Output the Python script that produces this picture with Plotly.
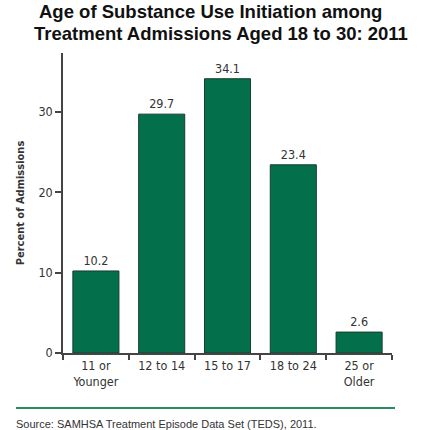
import plotly.graph_objects as go

# Age at first substance use, treatment admissions aged 18-30 (2011)
categories = ["11 or<br>Younger", "12 to 14", "15 to 17", "18 to 24", "25 or<br>Older"]
percents = [10.2, 29.7, 34.1, 23.4, 2.6]
y_ticks = [0, 10, 20, 30]

narrow = "DejaVu Sans Condensed, Liberation Sans Narrow, Arial Narrow, sans-serif"
sans = "Liberation Sans, Arial, sans-serif"
green = "#04704b"

fig = go.Figure(
    go.Bar(
        x=categories,
        y=percents,
        width=0.7,
        marker=dict(color=green, line=dict(color="#163d2a", width=1)),
        text=[f"{v:.1f}" for v in percents],
        textposition="outside",
        textfont=dict(family=narrow, size=12.5, color="#333333"),
        cliponaxis=False,
    )
)

# plot area in pixels: left 63, top 53, width 329, height 300
def px_x(x):
    return (x - 63) / 329

def px_y(y):
    return (353 - y) / 300

fig.update_layout(
    width=423,
    height=430,
    margin=dict(l=63, r=31, t=53, b=77),
    paper_bgcolor="white",
    plot_bgcolor="white",
    showlegend=False,
    xaxis=dict(
        type="category",
        tickson="boundaries",
        ticks="outside",
        ticklen=5,
        tickcolor="#444444",
        tickwidth=1.5,
        showline=True,
        linecolor="#444444",
        linewidth=1.5,
        showgrid=False,
        tickfont=dict(family=narrow, size=12.5, color="#333333"),
    ),
    yaxis=dict(
        range=[0, 37.3],
        tickvals=y_ticks,
        ticks="outside",
        ticklen=6,
        tickcolor="#444444",
        tickwidth=1.5,
        showline=True,
        linecolor="#444444",
        linewidth=1.5,
        showgrid=False,
        zeroline=False,
        tickfont=dict(family=narrow, size=12.5, color="#333333"),
        title=dict(
            text="<b>Percent of Admissions</b>",
            font=dict(family=narrow, size=11, color="#333333"),
            standoff=12,
        ),
    ),
    shapes=[
        dict(
            type="line", xref="paper", yref="paper",
            x0=px_x(16), x1=px_x(395), y0=px_y(408), y1=px_y(408),
            line=dict(color="#2a8a62", width=2),
        )
    ],
    annotations=[
        dict(
            text="<b>Age of Substance Use Initiation among</b>",
            xref="paper", yref="paper",
            x=px_x(210), y=px_y(12),
            xanchor="center", yanchor="middle", showarrow=False,
            font=dict(family=sans, size=18.5, color="#111111"),
        ),
        dict(
            text="<b>Treatment Admissions Aged 18 to 30: 2011</b>",
            xref="paper", yref="paper",
            x=px_x(221), y=px_y(33),
            xanchor="center", yanchor="middle", showarrow=False,
            font=dict(family=sans, size=18.5, color="#111111"),
        ),
        dict(
            text="Source: SAMHSA Treatment Episode Data Set (TEDS), 2011.",
            xref="paper", yref="paper",
            x=px_x(14), y=px_y(424),
            xanchor="left", yanchor="middle", showarrow=False,
            font=dict(family=sans, size=11, color="#333333"),
        ),
    ],
)

fig.write_html("out.html")
